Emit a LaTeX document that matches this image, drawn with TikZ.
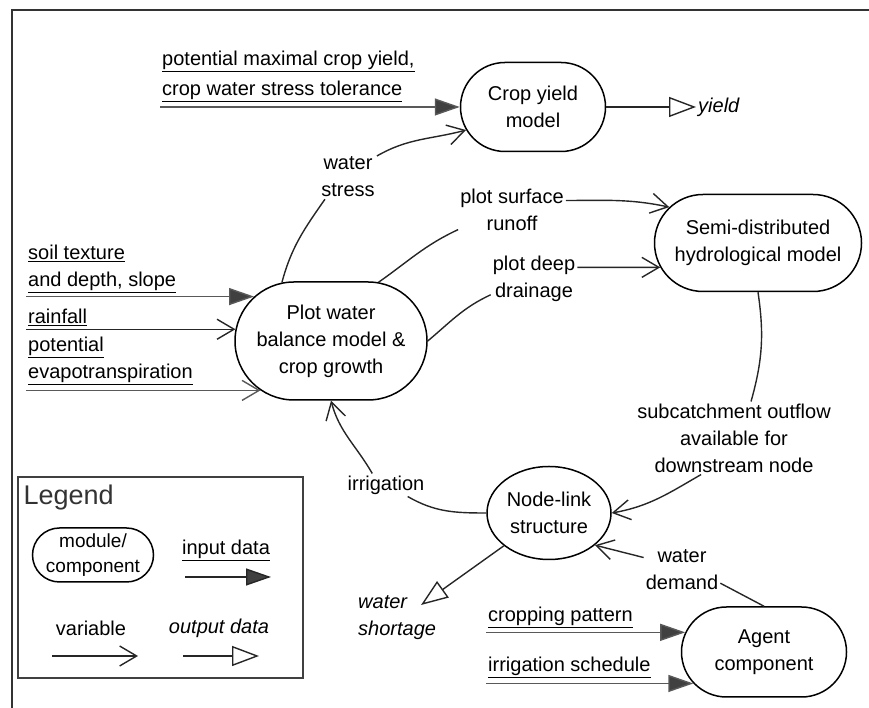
\documentclass[tikz,border=0pt]{standalone}
\usepackage{fontspec}
\setmainfont{Liberation Sans}
\usetikzlibrary{arrows.meta, positioning, shapes.misc, shapes.geometric}
\newcommand{\diagfont}{\fontsize{20}{27}\selectfont}
\tikzset{
    x=1pt, y=1pt, % one unit is one pixel of the sketch
    every node/.style={font=\diagfont},
    link/.style={line width=1.4pt, draw=black!85}, % plain connector
    varin/.style={link, -{Straight Barb[length=17pt, width=20pt]}}, % variable
    datain/.style={link, draw=black!65, -{Triangle[length=25pt, width=17pt, fill=black!75]}}, % input data
    dataout/.style={link, -{Triangle[open, length=27pt, width=20pt, fill=white]}}, % output data
    module/.style={draw, line width=1.5pt, rounded rectangle, inner sep=0pt}, % module / component, text goes in a label
    modtext/.style={label={[align=center]center:#1}}, % text inside a module
    varlabel/.style={align=center, inner sep=2pt}, % text of a variable
    inlabel/.style={align=left, anchor=west, inner sep=2pt}, % underlined input data
}

\begin{document}
\begin{tikzpicture}
    \useasboundingbox (0,0) rectangle (869,708);
    \draw[line width=1.5pt, black!80] (12,0) -- (12,698) -- (869,698);

    % modules
    \node[module, minimum width=145pt, minimum height=89pt, modtext={Crop yield\\model}] (crop) at (533,601) {};
    \node[module, minimum width=192pt, minimum height=118pt, modtext={Plot water\\balance model \&\\crop growth}] (plot) at (331,367) {};
    \node[module, minimum width=207pt, minimum height=97pt, modtext={Semi-distributed\\hydrological model}] (semi) at (758,465) {};
    \node[draw, ellipse, line width=1.5pt, align=center, minimum width=124pt, minimum height=93pt, inner sep=0pt] (nodelink) at (549,195) {Node-link\\structure};
    \node[module, minimum width=165pt, minimum height=90pt, modtext={Agent\\component}] (agent) at (764,56) {};

    % input data
    \node[inlabel] (potin) at (160,632) {\underline{potential maximal crop yield,}\\[3pt]\underline{crop water stress tolerance}};
    \node[inlabel] (soil) at (26,439) {\underline{soil texture}\\\underline{and depth, slope}};
    \node[inlabel] (rain) at (26,391) {\underline{rainfall}};
    \node[inlabel] (evapo) at (26,347) {\underline{potential}\\\underline{evapotranspiration}};
    \node[inlabel] (croppat) at (486,91) {\underline{cropping pattern}};
    \node[inlabel] (irrsched) at (486,41) {\underline{irrigation schedule}};

    % variables
    \node[varlabel] (wstress) at (348,531) {water\\stress};
    \node[varlabel] (runoff) at (512,498) {plot surface\\runoff};
    \node[varlabel] (drain) at (534,429) {plot deep\\drainage};
    \node[varlabel] (outflow) at (734,270) {subcatchment outflow\\available for\\downstream node};
    \node[varlabel] (irrig) at (386,223) {irrigation};
    \node[varlabel] (demand) at (682,138) {water\\demand};

    % output data
    \node[varlabel, anchor=west, font=\diagfont\itshape] (yieldout) at (696,601) {yield};
    \node[varlabel, align=left, anchor=west, font=\diagfont\itshape] (shortage) at (356,90) {water\\shortage};
    \coordinate (shorttip) at (421,103);

    \draw[datain] (potin.south west |- crop.west) -- (crop.west);
    \draw[datain] (soil.south west |- plot.150) -- (plot.150);
    \draw[varin, draw=black!85] (rain.south west |- plot.173) -- (plot.173);
    \draw[varin, draw=black!65] (evapo.south west |- plot.215) -- (plot.215);
    \draw[datain] (croppat.south west |- agent.166) -- (agent.166);
    \draw[datain] (irrsched.south west |- agent.204) -- (agent.204);

    \draw[link] (plot.130) to[out=75, in=235] (wstress.224);
    \draw[varin] (wstress.36) to[out=30, in=195] (crop.199);
    \draw[link] (plot.51) to[out=35, in=205] (runoff.200);
    \draw[varin] (runoff.10) to[out=0, in=168] (semi.158);
    \draw[link] (plot.east) to[out=40, in=205] (drain.200);
    \draw[varin] (drain.15) -- (semi.194);
    \draw[link] (semi.south) to[bend left=12] (outflow.65);
    \draw[varin] (outflow.228) to[out=210, in=10] (nodelink.east);
    \draw[link] (nodelink.west) to[out=180, in=-30] (irrig.332);
    \draw[varin] (irrig.140) to[out=120, in=-75] (plot.south);
    \draw[dataout] (nodelink.216) -- (shorttip);
    \draw[link] (demand.341) -- (agent.north);
    \draw[varin] (demand.162) -- (nodelink.325);
    \draw[dataout] (crop.east) -- (yieldout.west);

    % legend
    \draw[line width=1.5pt, black!75] (18,30) rectangle (303,231);
    \node[anchor=west, font=\fontsize{27}{30}\selectfont, text=black!80] (legtitle) at (20,210) {Legend};
    \node[module, minimum width=121pt, minimum height=54pt, label={[align=center, font=\fontsize{19}{25}\selectfont]center:module/\\component}] (legmod) at (93,153) {};
    \node[varlabel] (legin) at (226,158) {\underline{input data}};
    \node[varlabel] (legvar) at (91,80) {variable};
    \node[varlabel, font=\diagfont\itshape] (legout) at (219,80) {output data};
    \coordinate (leginA) at (185,131);
    \coordinate (leginB) at (271,131);
    \coordinate (legvarA) at (52,52);
    \coordinate (legvarB) at (138,52);
    \coordinate (legoutA) at (183,52);
    \coordinate (legoutB) at (259,52);
    \draw[datain, draw=black!85] (leginA) -- (leginB);
    \draw[varin] (legvarA) -- (legvarB);
    \draw[dataout] (legoutA) -- (legoutB);
\end{tikzpicture}
\end{document}
